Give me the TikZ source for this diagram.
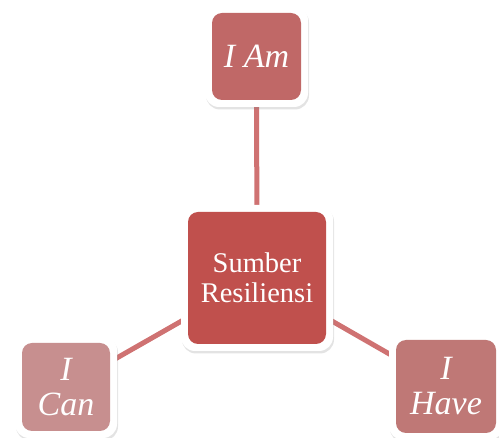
\documentclass[tikz,border=0pt]{standalone}
\usepackage{fontspec}
\setmainfont{Liberation Serif}
\usetikzlibrary{shadows,backgrounds}
\definecolor{cmain}{HTML}{C0504D}
\definecolor{cam}{HTML}{C06867}
\definecolor{chave}{HTML}{BF7876}
\definecolor{ccan}{HTML}{C78F8F}
\definecolor{cline}{HTML}{CF7272}
\tikzset{
  card/.style n args={3}{
    fill=white, rounded corners=14pt, minimum width=#1, minimum height=#2,
    inner sep=0pt, text=white, align=center,
    drop shadow={shadow xshift=1pt, shadow yshift=-2.5pt, opacity=0.22},
    path picture={\fill[#3, rounded corners=10pt]
      ([shift={(7pt,7pt)}]path picture bounding box.south west) rectangle
      ([shift={(-7pt,-7pt)}]path picture bounding box.north east);}
  },
  linkline/.style={draw=cline, line width=5pt},
  bigtext/.style={font=\fontsize{28.5}{30}\selectfont},
  ittext/.style={font=\fontsize{34}{35}\selectfont\itshape}
}
\begin{document}
\begin{tikzpicture}[x=1pt,y=-1pt]
\useasboundingbox (0,0) rectangle (499,438);
\node[card={152pt}{146pt}{cmain}, bigtext] (main) at (257,278) {Sumber\\Resiliensi};
\node[card={103pt}{101pt}{cam}, ittext] (am) at (256.5,56.5) {I Am};
\node[card={102pt}{102pt}{ccan}, ittext] (can) at (66,387) {I\\Can};
\node[card={114pt}{107pt}{chave}, ittext] (have) at (446,386.5) {I\\Have};
\begin{scope}[on background layer]
\draw[linkline] (main.center) -- (am.center);
\draw[linkline] (main.center) -- (can.center);
\draw[linkline] (main.center) -- (have.center);
\end{scope}
\end{tikzpicture}
\end{document}
